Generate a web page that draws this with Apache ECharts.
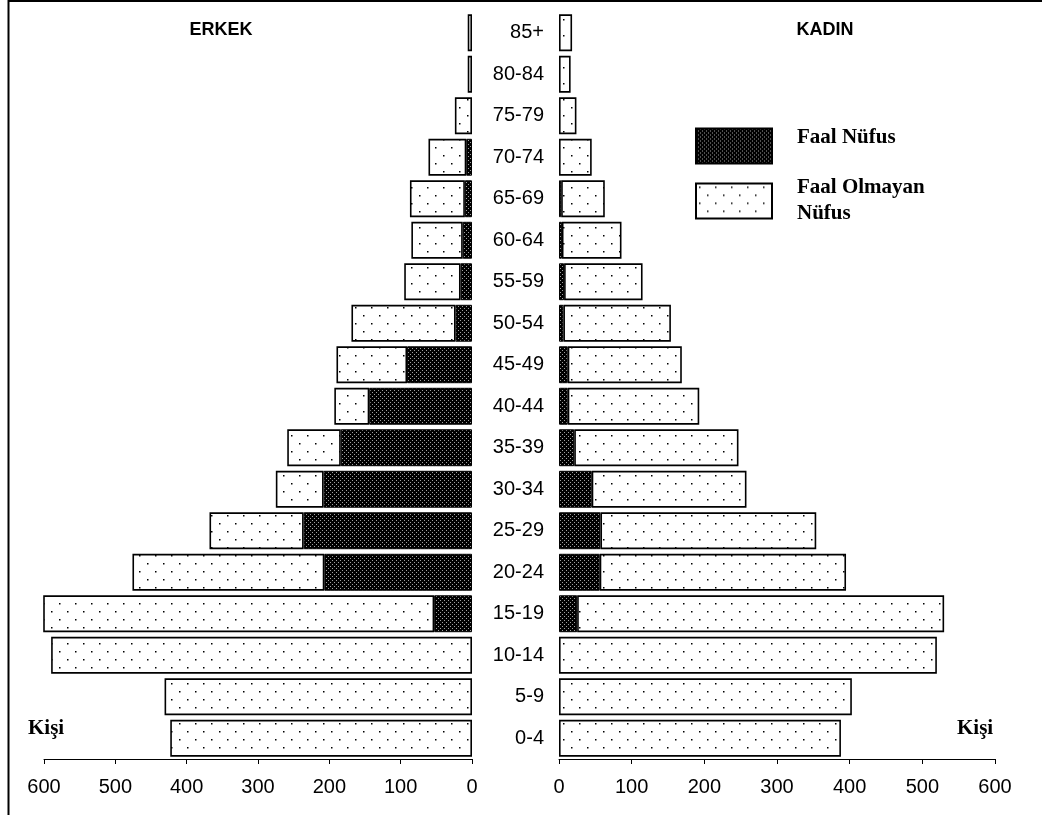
<!DOCTYPE html>
<html>
<head>
<meta charset="utf-8">
<script src="https://cdn.jsdelivr.net/npm/echarts@6/dist/echarts.min.js"></script>
<style>
html,body{margin:0;padding:0;background:#fff;}
#chart{width:1042px;height:815px;}
</style>
</head>
<body>
<div id="chart"></div>
<script>
// Age groups (bottom to top)
const categories = ['0-4','5-9','10-14','15-19','20-24','25-29','30-34','35-39','40-44','45-49','50-54','55-59','60-64','65-69','70-74','75-79','80-84','85+'];
// ERKEK (male) totals and active (Faal) population
const maleTotal  = [423, 431, 590, 605, 476, 368, 275, 259, 193, 190, 169, 95, 85, 87, 61, 24, 6, 6];
const maleFaal   = [0, 0, 0, 53, 207, 236, 208, 184, 144, 91, 23, 16, 13, 10, 8, 0, 0, 0];
// KADIN (female) totals and active (Faal) population
const femaleTotal = [388, 403, 520, 530, 395, 354, 258, 247, 193, 169, 154, 115, 86, 63, 45, 24, 16, 18];
const femaleFaal  = [0, 0, 0, 25, 56, 57, 45, 21, 12, 12, 6, 7, 4, 3, 0, 0, 0, 0];
const xTicks = [0, 100, 200, 300, 400, 500, 600];

const maleNonFaal = maleTotal.map((t, i) => t - maleFaal[i]);
const femaleNonFaal = femaleTotal.map((t, i) => t - femaleFaal[i]);
const nz = v => (v === 0 ? '-' : v);

function makeDotPattern() {
  const c = document.createElement('canvas');
  c.width = 16; c.height = 16;
  const g = c.getContext('2d');
  g.fillStyle = '#fff'; g.fillRect(0, 0, 16, 16);
  g.fillStyle = '#000';
  g.fillRect(3, 3, 1.5, 1.5);
  g.fillRect(11, 11, 1.5, 1.5);
  return c;
}
function makeDarkPattern() {
  const c = document.createElement('canvas');
  c.width = 4; c.height = 4;
  const g = c.getContext('2d');
  g.fillStyle = '#000'; g.fillRect(0, 0, 4, 4);
  g.fillStyle = '#a0a0a0';
  g.fillRect(0, 0, 1, 1);
  g.fillRect(2, 2, 1, 1);
  return c;
}
const lightFill = { image: makeDotPattern(), repeat: 'repeat' };
const darkFill = { image: makeDarkPattern(), repeat: 'repeat' };

const chart = echarts.init(document.getElementById('chart'), null, { renderer: 'canvas' });

const axisFont = { fontFamily: 'Liberation Sans, Arial, sans-serif', fontSize: 20, color: '#000' };
function xAxisCfg(gridIndex, inverse) {
  return {
    type: 'value', gridIndex: gridIndex, min: 0, max: 600, interval: 100, inverse: inverse,
    axisLine: { show: true, lineStyle: { color: '#000', width: 1 } },
    axisTick: { show: true, length: 5, lineStyle: { color: '#000' } },
    axisLabel: Object.assign({ margin: 18, formatter: v => xTicks.indexOf(v) >= 0 ? String(v) : '' }, axisFont),
    splitLine: { show: false }
  };
}

const barW = '89%';
const serifBold = '"Liberation Serif", "Times New Roman", serif';
const legendText = { fontFamily: serifBold, fontWeight: 'bold', fontSize: 21, color: '#000', lineHeight: 26 };
chart.setOption({
  animation: false,
  backgroundColor: '#fff',
  grid: [
    { left: 44, right: 1042 - 472, top: 12, bottom: 56 },
    { left: 559, right: 1042 - 995, top: 12, bottom: 56 }
  ],
  xAxis: [xAxisCfg(0, true), xAxisCfg(1, false)],
  yAxis: [
    { type: 'category', gridIndex: 0, data: categories, show: false },
    { type: 'category', gridIndex: 1, data: categories,
      axisLine: { show: false }, axisTick: { show: false },
      axisLabel: Object.assign({ margin: 15, align: 'right' }, axisFont) }
  ],
  legend: {
    left: 695, top: 127, orient: 'vertical', icon: 'rect', padding: 0,
    itemWidth: 76, itemHeight: 35, itemGap: 10,
    data: ['Faal Nüfus', 'Faal Olmayan Nüfus'],
    itemStyle: { borderColor: '#000', borderWidth: 2 },
    formatter: n => n === 'Faal Olmayan Nüfus' ? '{b|Faal Olmayan}\n{b|Nüfus}' : '{a|' + n + '}',
    textStyle: Object.assign({ padding: [0, 0, 0, 20], rich: {
      a: Object.assign({ padding: [0, 0, 17, 0] }, legendText),
      b: Object.assign({}, legendText)
    } }, legendText),
    selectedMode: false
  },
  series: [
    { name: 'Faal Nüfus', type: 'bar', xAxisIndex: 0, yAxisIndex: 0, stack: 'm', data: maleFaal.map(nz), barWidth: barW,
      itemStyle: { color: darkFill, borderColor: '#000', borderWidth: 1 } },
    { name: 'Faal Olmayan Nüfus', type: 'bar', xAxisIndex: 0, yAxisIndex: 0, stack: 'm', data: maleNonFaal, barWidth: barW,
      itemStyle: { color: lightFill, borderColor: '#000', borderWidth: 1.6 } },
    { name: 'Faal Nüfus', type: 'bar', xAxisIndex: 1, yAxisIndex: 1, stack: 'f', data: femaleFaal.map(nz), barWidth: barW,
      itemStyle: { color: darkFill, borderColor: '#000', borderWidth: 1 } },
    { name: 'Faal Olmayan Nüfus', type: 'bar', xAxisIndex: 1, yAxisIndex: 1, stack: 'f', data: femaleNonFaal, barWidth: barW,
      itemStyle: { color: lightFill, borderColor: '#000', borderWidth: 1.6 } }
  ],
  graphic: [
    { type: 'line', shape: { x1: 8.5, y1: 0, x2: 8.5, y2: 815 }, style: { stroke: '#000', lineWidth: 2 } },
    { type: 'line', shape: { x1: 8, y1: 1, x2: 1042, y2: 1 }, style: { stroke: '#000', lineWidth: 2 } },
    { type: 'text', x: 221, y: 30, style: { text: 'ERKEK', fill: '#000', font: 'bold 18px "Liberation Sans", Arial, sans-serif', align: 'center', verticalAlign: 'middle' } },
    { type: 'text', x: 825, y: 30, style: { text: 'KADIN', fill: '#000', font: 'bold 18px "Liberation Sans", Arial, sans-serif', align: 'center', verticalAlign: 'middle' } },
    { type: 'text', x: 28, y: 729, style: { text: 'Kişi', fill: '#000', font: 'bold 21px ' + serifBold, align: 'left', verticalAlign: 'middle' } },
    { type: 'text', x: 957, y: 729, style: { text: 'Kişi', fill: '#000', font: 'bold 21px ' + serifBold, align: 'left', verticalAlign: 'middle' } }
  ]
});
</script>
</body>
</html>
